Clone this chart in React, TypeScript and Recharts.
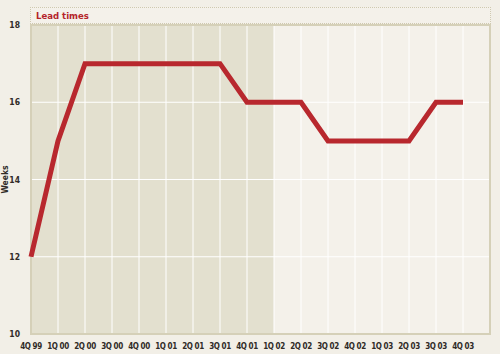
import { ComposedChart, Line, XAxis, YAxis, CartesianGrid, ReferenceArea, Label } from "recharts";

const quarters = ["4Q 99", "1Q 00", "2Q 00", "3Q 00", "4Q 00", "1Q 01", "2Q 01", "3Q 01", "4Q 01", "1Q 02", "2Q 02", "3Q 02", "4Q 02", "1Q 03", "2Q 03", "3Q 03", "4Q 03"];
const leadTimes = [12, 15, 17, 17, 17, 17, 17, 17, 16, 16, 16, 15, 15, 15, 15, 16, 16];
const yTicks = [10, 12, 14, 16, 18];
const shadedUntil = "1Q 02";

const data = quarters.map((q, i) => ({ idx: i, quarter: q, weeks: leadTimes[i] }));
const xTicks = quarters.map((_, i) => i);
// one fill per stripe between vertical grid lines: dark up to 1Q 02, light after
const stripeFills = quarters.map((_, i) => (i < quarters.indexOf(shadedUntil) ? "#e3e0cf" : "#f4f1ea"));

const font = "'DejaVu Sans Condensed', 'DejaVu Sans', sans-serif";
const tickStyle = { fontSize: 8, fontWeight: 700, fill: "#302b27", fontFamily: font, letterSpacing: -0.4 };

export default function App() {
    return (
        <div style={{ position: "absolute", left: 0, top: 0, width: 500, height: 354, background: "#f2efe7" }}>
            <ComposedChart
                width={500}
                height={354}
                data={data}
                margin={{ top: 25, right: 10, left: 0, bottom: 0 }}
            >
                <CartesianGrid stroke="#ffffff" strokeWidth={1} verticalFill={stripeFills} fillOpacity={1} />
                <XAxis
                    dataKey="idx"
                    type="number"
                    domain={[0, quarters.length]}
                    ticks={xTicks}
                    tickFormatter={(v: number) => quarters[v] ?? ""}
                    axisLine={false}
                    tickLine={false}
                    tick={tickStyle}
                    tickMargin={3}
                    height={20}
                    interval={0}
                />
                <YAxis
                    type="number"
                    domain={[10, 18]}
                    ticks={yTicks}
                    axisLine={false}
                    tickLine={false}
                    tick={{ ...tickStyle, fontSize: 8.5, letterSpacing: 0 }}
                    tickMargin={5}
                    width={31}
                >
                    <Label value="Weeks" angle={-90} position="insideLeft" offset={5} style={{ ...tickStyle, fontSize: 8.5, letterSpacing: 0, textAnchor: "middle" }} />
                </YAxis>
                <ReferenceArea x1={0} x2={quarters.length} y1={10} y2={18} fill="none" stroke="#d5d0b8" strokeWidth={2} />
                <Line
                    type="linear"
                    dataKey="weeks"
                    stroke="#b8282e"
                    strokeWidth={5}
                    dot={false}
                    isAnimationActive={false}
                />
            </ComposedChart>
            <div style={{
                position: "absolute", left: 30, top: 7, width: 454, height: 15,
                background: "#f4f1ea", border: "1px dotted #cfc9b0",
                color: "#b5252b", fontFamily: font,
                fontWeight: 700, fontSize: 9.5, lineHeight: "15px", paddingLeft: 5, boxSizing: "content-box"
            }}>
                Lead times
            </div>
        </div>
    );
}
